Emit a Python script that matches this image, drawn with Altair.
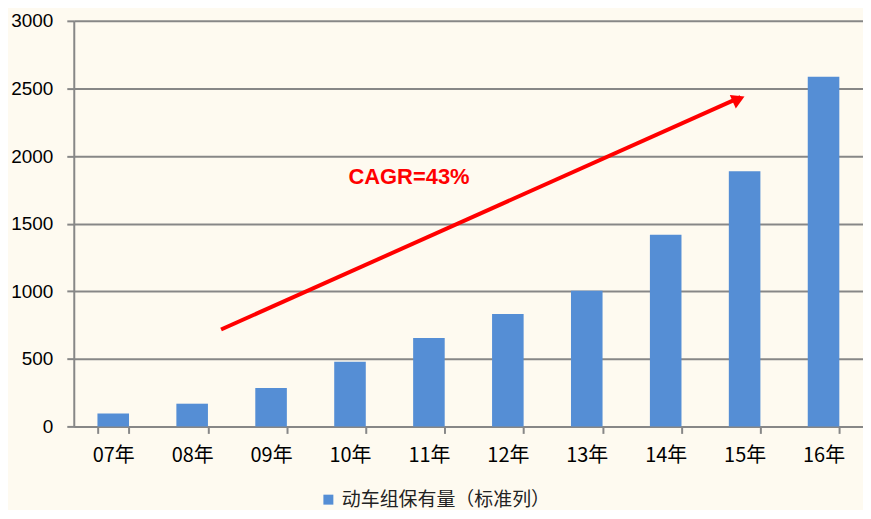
import altair as alt
import pandas as pd

years = ["07年", "08年", "09年", "10年", "11年", "12年", "13年", "14年", "15年", "16年"]
values = [95, 168, 285, 478, 654, 831, 1004, 1418, 1888, 2586]
series_name = "动车组保有量（标准列）"

arrow_from = ["08年", 717]
arrow_to = ["15年", 2450]
note_text = "CAGR=43%"
note_pos = ["11年", 1847]

bar_color = "#558ED5"
bg = "#FEFAF0"
grid_color = "#878787"
font = "Noto Sans CJK SC"

df = pd.DataFrame({"year": years, "value": values, "series": [series_name] * len(years)})

x_enc = alt.X("year:N", sort=years, title=None,
              scale=alt.Scale(paddingInner=0.6, paddingOuter=0.3),
              axis=alt.Axis(labelAngle=0, labelFont=font, labelFontSize=20, labelColor="#000000",
                            labelPadding=12, domainColor=grid_color, domainWidth=2,
                            tickColor=grid_color, tickWidth=2, tickSize=7, tickBand="extent"))

bars = alt.Chart(df).mark_bar(color=bar_color).encode(
    x=x_enc,
    y=alt.Y("value:Q", title=None,
            scale=alt.Scale(domain=[0, 3000]),
            axis=alt.Axis(values=[0, 500, 1000, 1500, 2000, 2500, 3000], format="d",
                          labelFont="Liberation Sans", labelFontSize=19, labelColor="#000000",
                          labelPadding=14, grid=True, gridColor=grid_color, gridWidth=2,
                          domainColor=grid_color, domainWidth=2,
                          tickColor=grid_color, tickWidth=2, tickSize=7)),
    color=alt.Color("series:N", title=None,
                    scale=alt.Scale(range=[bar_color]),
                    legend=alt.Legend(orient="none", legendX=246, legendY=471,
                                      symbolType="square", symbolSize=100,
                                      symbolStrokeWidth=0, labelLimit=400,
                                      labelFont=font, labelFontSize=19, labelColor="#222222")),
)

arrow_df = pd.DataFrame({"x": [arrow_from[0]], "x2": [arrow_to[0]],
                         "y": [arrow_from[1]], "y2": [arrow_to[1]]})

arrow_line = alt.Chart(arrow_df).mark_rule(color="#FF0000", strokeWidth=4, xOffset=29, x2Offset=-4, y2Offset=2).encode(
    x=alt.X("x:N", sort=years),
    x2="x2:N",
    y="y:Q",
    y2="y2:Q",
)

head_df = pd.DataFrame({"x": [arrow_to[0]], "y": [arrow_to[1]]})
arrow_head = alt.Chart(head_df).mark_point(
    shape="triangle-up", filled=True, color="#FF0000", opacity=1,
    size=220, angle=66, xOffset=-6, yOffset=4, strokeWidth=0,
).encode(x=alt.X("x:N", sort=years), y="y:Q")

note_df = pd.DataFrame({"x": [note_pos[0]], "y": [note_pos[1]], "t": [note_text]})
note = alt.Chart(note_df).mark_text(
    font="Liberation Sans", fontWeight="bold", fontSize=22, color="#FF0000",
    xOffset=-20, baseline="middle", align="center",
).encode(x=alt.X("x:N", sort=years), y="y:Q", text="t:N")

chart = alt.layer(bars, arrow_line, arrow_head, note).properties(
    width=792, height=407,
    autosize=alt.AutoSizeParams(type="none"),
    padding={"left": 66, "top": 12, "right": 0, "bottom": 83},
    background=bg,
).configure_view(stroke=None)

chart.save("out.html", embed_options={"renderer": "svg", "actions": False})
